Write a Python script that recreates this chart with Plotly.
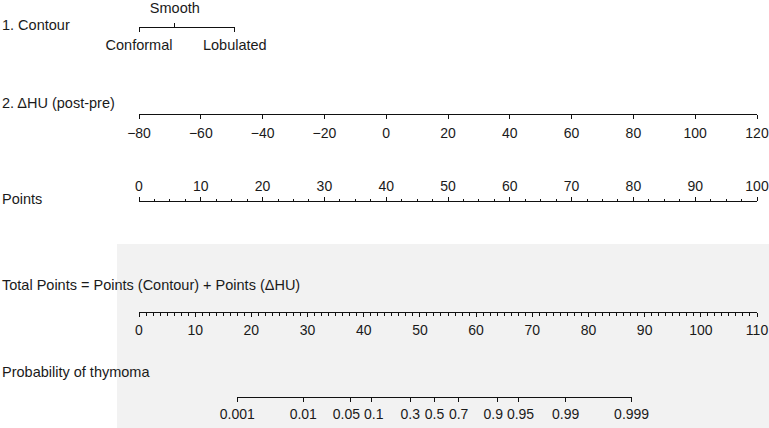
import numpy as np
import plotly.graph_objects as go

W, H = 769, 428

# ---------------- data ----------------
contour_levels = ["Conformal", "Smooth", "Lobulated"]
contour_points = [0.0, 5.8, 15.5]          # points assigned to each contour level

dhu_ticks = [-80, -60, -40, -20, 0, 20, 40, 60, 80, 100, 120]
dhu_range = [-80, 120]                      # maps linearly onto 0..100 points

points_range = [0, 100]
points_major = 10
points_minor = 2.5

total_range = [0, 110]
total_major = 10
total_minor = 1.25

prob_ticks = [0.001, 0.01, 0.05, 0.1, 0.3, 0.5, 0.7, 0.9, 0.95, 0.99, 0.999]
prob_labels = ["0.001", "0.01", "0.05", "0.1", "0.3", "0.5", "0.7", "0.9", "0.95", "0.99", "0.999"]
lp_intercept = -10.35    # linear predictor = intercept + slope * total points
lp_slope = 0.1968

row_titles = ["1. Contour", "2. \u0394HU (post-pre)", "Points",
              "Total Points = Points (Contour) + Points (\u0394HU)", "Probability of thymoma"]

# ---------------- layout / style (pixels) ----------------
X0, X1 = 139, 757               # pixel extent of the 0..100 points scale and 0..110 total scale
row_line_y = [27, 114, 201, 312, 397]
row_title_y = [25, 103, 199, 285, 372]
FONT = "Liberation Sans, Arial, Helvetica, sans-serif"
FS = 14.5
TFS = 14
# crowded probability labels are nudged apart (px), as in the reference
prob_label_shift = {"0.05": -4, "0.1": 2, "0.9": -4, "0.95": 2}


def pts_px(p):
    return X0 + (p - points_range[0]) / (points_range[1] - points_range[0]) * (X1 - X0)


def tot_px(t):
    return X0 + (t - total_range[0]) / (total_range[1] - total_range[0]) * (X1 - X0)


def logit(p):
    p = np.asarray(p, dtype=float)
    return np.log(p / (1 - p))


prob_tp = (logit(prob_ticks) - lp_intercept) / lp_slope


def axis(dom_px, rng, ypx, side="bottom", **kw):
    d = dict(
        domain=[dom_px[0] / W, dom_px[1] / W], range=rng, anchor="free",
        position=1 - ypx / H, side=side, showline=True, linecolor="#111",
        linewidth=1, ticks="outside", ticklen=4, tickwidth=1, tickcolor="#111",
        showgrid=False, zeroline=False, fixedrange=True, automargin=False,
        tickangle=0, visible=True,
        tickfont=dict(family=FONT, size=TFS, color="#1a1a1a"),
    )
    d.update(kw)
    return d


fig = go.Figure()
axes = {}

# 1. Contour (bottom labels + top label)
c_lo, c_hi = min(contour_points), max(contour_points)
c_dom = [pts_px(c_lo), pts_px(c_hi)]
bottom_idx = [0, 2]
top_idx = [1]
axes["xaxis2"] = axis(c_dom, [c_lo, c_hi], row_line_y[0], tickmode="array",
                      tickvals=[contour_points[i] for i in bottom_idx],
                      ticktext=[contour_levels[i] for i in bottom_idx],
                      tickfont=dict(family=FONT, size=FS, color="#1a1a1a"),
                      ticklabelstandoff=1)
axes["xaxis3"] = axis(c_dom, [c_lo, c_hi], row_line_y[0], side="top", showline=False,
                      tickmode="array",
                      tickvals=[contour_points[i] for i in top_idx],
                      ticktext=[contour_levels[i] for i in top_idx],
                      tickfont=dict(family=FONT, size=FS, color="#1a1a1a"),
                      ticklabelstandoff=4)

# 2. delta HU
axes["xaxis4"] = axis([pts_px(0), pts_px(100)], dhu_range, row_line_y[1], tickmode="array",
                      tickvals=dhu_ticks, ticktext=[("\u2212" if v < 0 else "") + str(abs(v)) for v in dhu_ticks],
                      ticklabelstandoff=2)

# Points
axes["xaxis5"] = axis([pts_px(points_range[0]), pts_px(points_range[1])], points_range, row_line_y[2],
                      side="top", tickmode="linear", tick0=0, dtick=points_major,
                      minor=dict(ticks="outside", tick0=0, dtick=points_minor, ticklen=2,
                                 tickwidth=1, tickcolor="#111", showgrid=False),
                      ticklabelstandoff=0)

# Total points
axes["xaxis6"] = axis([tot_px(total_range[0]), tot_px(total_range[1])], total_range, row_line_y[3],
                      tickmode="linear", tick0=0, dtick=total_major,
                      minor=dict(ticks="outside", tick0=0, dtick=total_minor, ticklen=3,
                                 tickwidth=1, tickcolor="#111", showgrid=False),
                      ticklabelstandoff=1)

# Probability: main axis (line, ticks, un-crowded labels) + label-only overlays for nudged labels
p_dom = [tot_px(prob_tp[0]), tot_px(prob_tp[-1])]
p_rng = [prob_tp[0], prob_tp[-1]]
groups = {}
for v, lab in zip(prob_tp, prob_labels):
    groups.setdefault(prob_label_shift.get(lab, 0), []).append((v, lab))

axes["xaxis7"] = axis(p_dom, p_rng, row_line_y[4], tickmode="array",
                      tickvals=list(prob_tp),
                      ticktext=[lab if lab not in prob_label_shift else "" for lab in prob_labels],
                      ticklabelstandoff=0)
k = 8
for shift, items in groups.items():
    if shift == 0:
        continue
    axes["xaxis%d" % k] = axis(p_dom, p_rng, row_line_y[4], tickmode="array",
                               tickvals=[v for v, _ in items], ticktext=[l for _, l in items],
                               showline=False, tickcolor="rgba(0,0,0,0)",
                               ticklabelshift=shift, ticklabelstandoff=0)
    k += 1

for name, ax in axes.items():
    ref = "x" + name[5:]
    fig.add_trace(go.Scatter(x=ax["range"], y=[0.5, 0.5], xaxis=ref, yaxis="y",
                             mode="markers", marker=dict(size=1, opacity=0),
                             hoverinfo="skip", showlegend=False))

fig.update_layout(**axes)
fig.update_layout(
    template="none",
    width=W, height=H, margin=dict(l=0, r=0, t=0, b=0, pad=0, autoexpand=False),
    paper_bgcolor="white", plot_bgcolor="rgba(0,0,0,0)",
    xaxis=dict(visible=False, range=[0, 1], domain=[0, 1], fixedrange=True, automargin=False),
    yaxis=dict(visible=False, range=[0, 1], domain=[0, 1], fixedrange=True, automargin=False),
    font=dict(family=FONT, size=FS, color="#1a1a1a"),
    showlegend=False,
)

# gray background behind the total-points / probability rows
fig.add_shape(type="rect", xref="paper", yref="paper", x0=117 / W, x1=1, y0=0, y1=1 - 244 / H,
              fillcolor="#f2f2f2", line=dict(width=0), layer="below")

for t, ty in zip(row_titles, row_title_y):
    fig.add_annotation(text=t, xref="paper", yref="paper", x=0, y=1 - ty / H,
                       xanchor="left", yanchor="middle", showarrow=False,
                       font=dict(family=FONT, size=FS, color="#1a1a1a"))

fig.write_html(
    "out.html",
    config={"displayModeBar": False, "staticPlot": True},
    post_script="document.body.style.margin='0';document.body.style.padding='0';"
                "document.body.style.overflow='hidden';",
)
